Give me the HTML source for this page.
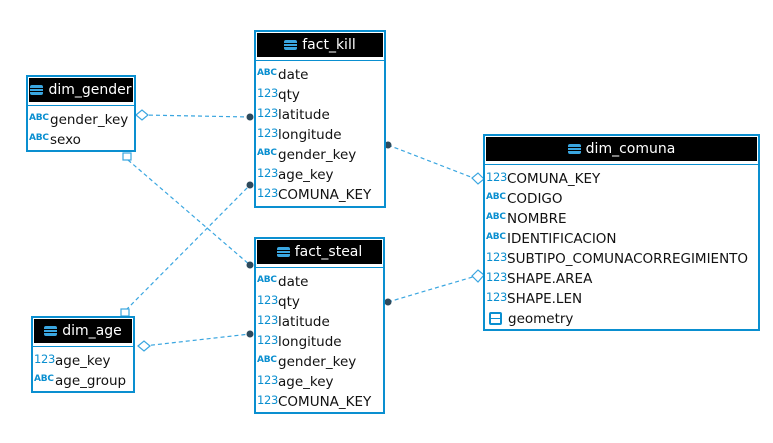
<!DOCTYPE html>
<html><head><meta charset="utf-8"><style>
body{margin:0;width:773px;height:443px;background:#fff;position:relative;overflow:hidden;font-family:"DejaVu Sans","Liberation Sans",sans-serif;}
.t{position:absolute;border:2px solid #0a8fd0;background:#fff;box-sizing:border-box;}
.h{background:#000;color:#fff;height:24px;line-height:24px;text-align:center;font-size:14px;margin:1px;}
.h i{display:inline-block;width:13px;height:10px;vertical-align:-1px;margin-right:5px;box-sizing:border-box;background:linear-gradient(#3aa6e0 0 3px,#000 3px 4px,#3aa6e0 4px 6px,#000 6px 7px,#3aa6e0 7px);border-radius:2px}
.sep{border-top:1px solid #0a8fd0;margin-top:3px;height:4px}
.r{height:20px;line-height:20px;font-size:13.5px;color:#111;white-space:nowrap;padding-left:1px;overflow:hidden}
.r b{display:inline-block;width:21px;height:20px;line-height:16px;vertical-align:top;font-weight:normal;color:#0a8fd0;font-size:11.5px;letter-spacing:-.3px}
.r b.a{font-size:9px;font-weight:bold;letter-spacing:-.2px}
svg{position:absolute;left:0;top:0}
</style></head><body>
<svg width="773" height="443">
<g stroke="#3aa6e0" stroke-width="1.2" stroke-dasharray="4,3" fill="none">
<line x1="142" y1="115" x2="250" y2="117"/>
<line x1="128" y1="160" x2="250" y2="265"/>
<line x1="126" y1="310" x2="250" y2="185"/>
<line x1="144" y1="346" x2="250" y2="334"/>
<line x1="388" y1="145" x2="476" y2="179"/>
<line x1="388" y1="302" x2="476" y2="276"/>
</g>
<g fill="#fff" stroke="#3aa6e0" stroke-width="1.2">
<polygon points="136,115 142,110 148,115 142,120"/>
<polygon points="138,346 144,341 150,346 144,351"/>
<polygon points="484,179 478,173 472,178 478,184"/>
<polygon points="484,275 478,270 472,276 478,282"/>
<rect x="123" y="153" width="8" height="7"/>
<rect x="121" y="309" width="8" height="7"/>
</g>
<g fill="#2d4a5c">
<circle cx="250" cy="117" r="3.5"/><circle cx="250" cy="265" r="3.5"/>
<circle cx="250" cy="185" r="3.5"/><circle cx="250" cy="334" r="3.5"/>
<circle cx="388" cy="145" r="3.5"/><circle cx="388" cy="302" r="3.5"/>
</g>
</svg>

<div class="t" style="left:26px;top:75px;width:110px;height:77px">
<div class="h"><i></i>dim_gender</div><div class="sep"></div>
<div class="r"><b class="a">ABC</b>gender_key</div>
<div class="r"><b class="a">ABC</b>sexo</div>
</div>

<div class="t" style="left:254px;top:30px;width:132px;height:178px">
<div class="h"><i></i>fact_kill</div><div class="sep"></div>
<div class="r"><b class="a">ABC</b>date</div>
<div class="r"><b>123</b>qty</div>
<div class="r"><b>123</b>latitude</div>
<div class="r"><b>123</b>longitude</div>
<div class="r"><b class="a">ABC</b>gender_key</div>
<div class="r"><b>123</b>age_key</div>
<div class="r"><b>123</b>COMUNA_KEY</div>
</div>

<div class="t" style="left:254px;top:237px;width:131px;height:177px">
<div class="h"><i></i>fact_steal</div><div class="sep"></div>
<div class="r"><b class="a">ABC</b>date</div>
<div class="r"><b>123</b>qty</div>
<div class="r"><b>123</b>latitude</div>
<div class="r"><b>123</b>longitude</div>
<div class="r"><b class="a">ABC</b>gender_key</div>
<div class="r"><b>123</b>age_key</div>
<div class="r"><b>123</b>COMUNA_KEY</div>
</div>

<div class="t" style="left:31px;top:316px;width:104px;height:77px">
<div class="h"><i></i>dim_age</div><div class="sep"></div>
<div class="r"><b>123</b>age_key</div>
<div class="r"><b class="a">ABC</b>age_group</div>
</div>

<div class="t" style="left:483px;top:134px;width:277px;height:197px">
<div class="h"><i></i>dim_comuna</div><div class="sep"></div>
<div class="r"><b>123</b>COMUNA_KEY</div>
<div class="r"><b class="a">ABC</b>CODIGO</div>
<div class="r"><b class="a">ABC</b>NOMBRE</div>
<div class="r"><b class="a">ABC</b>IDENTIFICACION</div>
<div class="r"><b>123</b>SUBTIPO_COMUNACORREGIMIENTO</div>
<div class="r"><b>123</b>SHAPE.AREA</div>
<div class="r"><b>123</b>SHAPE.LEN</div>
<div class="r"><b style="display:inline-block;width:13px;height:13px;border:2px solid #0a8fd0;border-radius:2px;box-sizing:border-box;margin:3px 6px 0 3px;background:linear-gradient(#fff 0 4px,#0a8fd0 4px 5px,#fff 5px)"></b>geometry</div>
</div>
</body></html>
